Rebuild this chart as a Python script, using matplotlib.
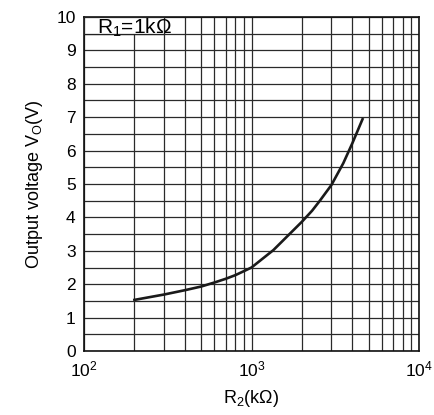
import numpy as np
import matplotlib
matplotlib.use("Agg")
import matplotlib.pyplot as plt
from matplotlib.ticker import LogLocator, NullFormatter, MultipleLocator
from matplotlib.patches import Rectangle

plt.rcParams['font.family'] = ['Liberation Sans', 'DejaVu Sans']
plt.rcParams['mathtext.fontset'] = 'custom'
plt.rcParams['mathtext.rm'] = 'Liberation Sans'
plt.rcParams['mathtext.it'] = 'Liberation Sans'
plt.rcParams['mathtext.default'] = 'regular'

# curve
r2_kohm = [200, 300, 400, 500, 600, 700, 800, 900, 1000, 1350, 2000,
           2300, 2560, 3000, 3530, 4000, 4600]
vout = [1.53, 1.69, 1.82, 1.93, 2.05, 2.16, 2.27, 2.39, 2.5, 3.02, 3.87,
        4.2, 4.5, 4.97, 5.62, 6.22, 6.94]

y_ticks = list(range(0, 11))
x_ticks = [1e2, 1e3, 1e4]
x_labels = ['$10^2$', '$10^3$', '$10^4$']

fig = plt.figure(figsize=(4.34, 4.15), dpi=100)
ax = fig.add_axes([84 / 434, 1 - 351 / 415, 335 / 434, 334 / 415])

ax.set_xscale('log')
ax.set_xlim(1e2, 1e4)
ax.set_ylim(0, 10)

ax.set_xticks(x_ticks)
ax.set_xticklabels(x_labels)
ax.xaxis.set_minor_locator(LogLocator(base=10, subs=np.arange(2, 10)))
ax.xaxis.set_minor_formatter(NullFormatter())
ax.set_yticks(y_ticks)
ax.yaxis.set_minor_locator(MultipleLocator(0.5))
ax.tick_params(axis='both', which='both', length=0, labelsize=12.5, pad=6)

ax.grid(True, which='both', color='#2a2a2a', linewidth=0.9)
for s in ax.spines.values():
    s.set_linewidth(1.2)
    s.set_color('#111111')

ax.plot(r2_kohm, vout, color='#1a1a1a', linewidth=1.9, zorder=3)

# label box in the top-left corner
ax.add_patch(Rectangle((100, 9.5), 200, 0.5, facecolor='white', edgecolor='#222222',
                       linewidth=0.9, zorder=4))
ax.text(200, 9.74, 'R$_1$=1k\u03a9', fontsize=15, ha='center', va='center_baseline', zorder=5)

ax.set_xlabel('R$_2$(k\u03a9)', fontsize=13, labelpad=6)
ax.set_ylabel('Output voltage V$_O$(V)', fontsize=13, labelpad=8)

fig.savefig('out.png', dpi=100)
